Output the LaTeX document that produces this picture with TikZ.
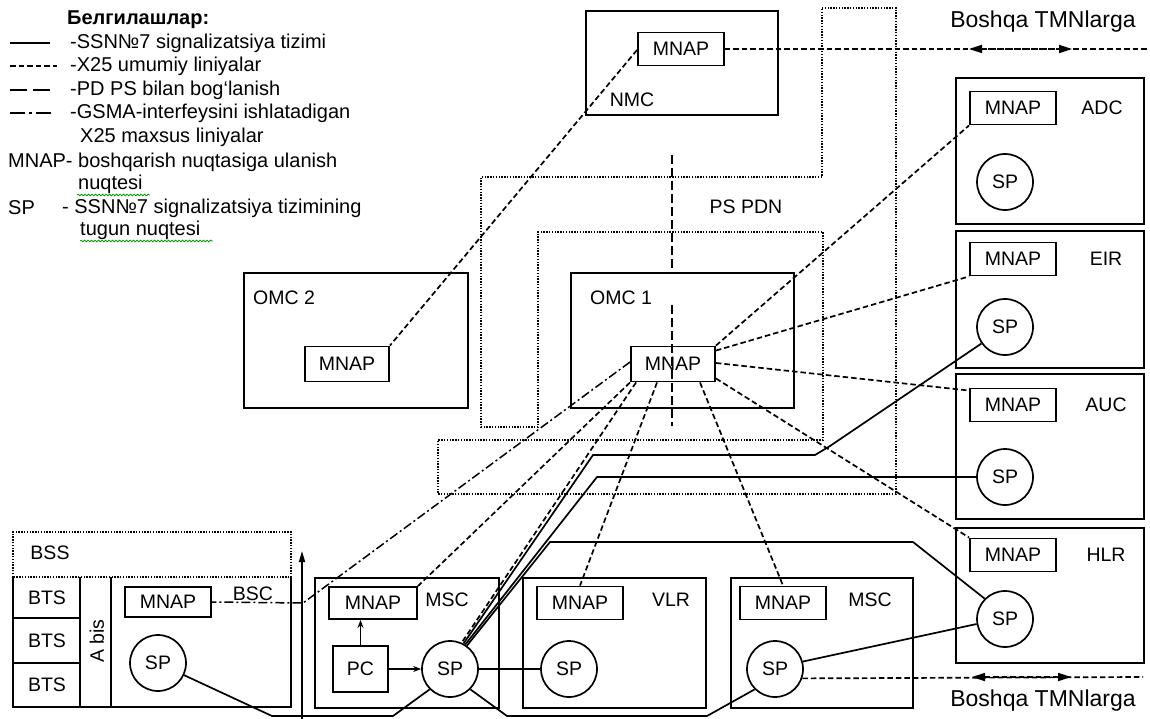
\documentclass[tikz,border=0pt]{standalone}
\usepackage{fontspec}
\setmainfont{Liberation Sans}
\usetikzlibrary{arrows.meta,decorations.pathmorphing,calc}
\newcommand\dlbl{\fontsize{19.5}{22}\selectfont}
\newcommand\dleg{\fontsize{20}{22}\selectfont}
\newcommand\dbig{\fontsize{23}{26}\selectfont}
\begin{document}
\begin{tikzpicture}[x=1pt,y=-1pt,
 box/.style={draw,line width=1.9pt,inner sep=0pt,anchor=north west},
 mnap/.style={draw,line width=1.9pt,minimum width=86pt,minimum height=33pt,inner sep=0pt,font=\dlbl},
 sp/.style={draw,circle,line width=1.7pt,minimum size=56pt,inner sep=0pt,font=\dlbl},
 lbl/.style={inner sep=0pt,font=\dlbl},
 leg/.style={inner sep=0pt,font=\dleg,anchor=west},
 ss7/.style={line width=1.7pt},
 x25/.style={line width=1.7pt,dash pattern=on 5.5pt off 3pt},
 pdps/.style={line width=1.7pt,dash pattern=on 9pt off 4pt},
 gsm/.style={line width=1.5pt,dash pattern=on 9pt off 3pt on 2pt off 3pt},
 dotb/.style={line width=1.9pt,dash pattern=on 1.4pt off 1.4pt},
 tips/.style={{Triangle[length=13pt,width=8pt]}-{Triangle[length=13pt,width=8pt]}},
 spell/.style={draw=green!60!black,line width=0.8pt,decorate,decoration={snake,amplitude=0.8pt,segment length=3.5pt}}
]
\fill[white] (0,0) rectangle (1150,719);
\useasboundingbox (0,0) rectangle (1150,719);

% ---------------- legend ----------------
\node[leg] (lt) at (67,20) {\bfseries Белгилашлар:};
\coordinate (a1) at (10,43); \coordinate (b1) at (50,43);
\draw[ss7] (a1) -- (b1);
\node[leg] (l1) at (70,43) {-SSN№7 signalizatsiya tizimi};
\coordinate (a2) at (10,66); \coordinate (b2) at (57,66);
\draw[x25] (a2) -- (b2);
\node[leg] (l2) at (70,66) {-X25 umumiy liniyalar};
\coordinate (a3) at (10,90); \coordinate (b3) at (52,90);
\draw[line width=1.7pt,dash pattern=on 17pt off 6pt] (a3) -- (b3);
\node[leg] (l3) at (70,90) {-PD PS bilan bog‘lanish};
\coordinate (a4) at (10,113); \coordinate (b4) at (54,113);
\draw[line width=1.6pt,dash pattern=on 15pt off 4pt on 3pt off 4pt] (a4) -- (b4);
\node[leg] (l4) at (70,113) {-GSMA-interfeysini ishlatadigan};
\node[leg] (l5) at (80,137) {X25 maxsus liniyalar};
\node[leg] (l6) at (8,162) {MNAP- boshqarish nuqtasiga ulanish};
\node[leg] (l7) at (78,184) {nuqtesi};
\coordinate (u1) at (77,195); \coordinate (u2) at (150,195);
\draw[spell] (u1) -- (u2);
\node[leg] (l8a) at (8,208) {SP};
\node[leg] (l8) at (62,208) {- SSN№7 signalizatsiya tizimining};
\node[leg] (l9) at (80,230) {tugun nuqtesi};
\coordinate (u3) at (80,241); \coordinate (u4) at (213,241);
\draw[spell] (u3) -- (u4);

% ---------------- PS PDN ----------------
\draw[dotb] (822,8) -- (896,8) -- (896,494) -- (438,494) -- (438,440) -- (823,440)
  -- (823,232) -- (538,232) -- (538,427) -- (481,427) -- (481,177) -- (822,177) -- cycle;
\node[lbl] (pspdn) at (746,207) {PS PDN};

% ---------------- NMC ----------------
\node[box,minimum width=192pt,minimum height=104pt] (nmc) at (585,10) {};
\node[lbl] (nmcl) at (632,100) {NMC};
\node[mnap] (mN) at (681,49) {MNAP};

% ---------------- OMC ----------------
\node[box,minimum width=224pt,minimum height=135pt] (omc2) at (243,272) {};
\node[lbl] (omc2l) at (284,298) {OMC 2};
\node[mnap,minimum width=84pt,minimum height=35pt] (mO2) at (347,364) {MNAP};
\node[box,minimum width=223pt,minimum height=135pt] (omc1) at (570,272) {};
\node[lbl] (omc1l) at (621,298) {OMC 1};
\node[mnap,minimum width=84pt,minimum height=35pt] (mO1) at (673,364) {MNAP};

% ---------------- right column ----------------
\node[box,minimum width=188pt,minimum height=146pt] (adc) at (955,77) {};
\node[mnap] (mA) at (1013,108) {MNAP};
\node[lbl] (adcl) at (1102,108) {ADC};
\node[sp] (spA) at (1005,182) {SP};
\node[box,minimum width=188pt,minimum height=137pt] (eir) at (955,230) {};
\node[mnap] (mE) at (1013,259) {MNAP};
\node[lbl] (eirl) at (1106,259) {EIR};
\node[sp] (spE) at (1005,327) {SP};
\node[box,minimum width=188pt,minimum height=145pt] (auc) at (955,373) {};
\node[mnap] (mU) at (1013,405) {MNAP};
\node[lbl] (aucl) at (1106,405) {AUC};
\node[sp] (spU) at (1005,477) {SP};
\node[box,minimum width=188pt,minimum height=135pt] (hlr) at (955,527) {};
\node[mnap] (mH) at (1013,555) {MNAP};
\node[lbl] (hlrl) at (1106,555) {HLR};
\node[sp] (spH) at (1005,619) {SP};

% ---------------- BSS ----------------
\draw[dotb] (13,577) -- (13,532) -- (291,532) -- (291,577) -- cycle;
\node[lbl] (bssl) at (50,553) {BSS};
\draw[line width=1.9pt] (13,577) -- (13,707) -- (291,707) -- (291,577);
\draw[line width=1.9pt] (80,577) -- (80,707) (111,577) -- (111,707)
  (13,618) -- (80,618) (13,663) -- (80,663);
\node[lbl] (bts1) at (47,598) {BTS};
\node[lbl] (bts2) at (47,641) {BTS};
\node[lbl] (bts3) at (47,685) {BTS};
\node[lbl,rotate=90] (abis) at (97,641) {A bis};
\node[mnap,minimum height=30pt] (mB) at (168,602) {MNAP};
\node[lbl] (bscl) at (253,594) {BSC};
\node[sp] (spB) at (158,663) {SP};
\coordinate (ar0) at (302,719); \coordinate (ar1) at (302,551);
\draw[ss7,-{Triangle[length=11pt,width=6pt]}] (ar0) -- (ar1);

% ---------------- MSC / VLR / MSC ----------------
\node[box,minimum width=184pt,minimum height=130pt] (msc1) at (314,577) {};
\node[mnap,minimum width=88pt,minimum height=32pt] (mM1) at (373,603) {MNAP};
\node[lbl] (msc1l) at (447,600) {MSC};
\node[draw,line width=1.9pt,minimum width=55pt,minimum height=46pt,inner sep=0pt,font=\dlbl] (pc) at (360.5,669) {PC};
\node[sp] (spM1) at (450,669) {SP};
\node[box,minimum width=183pt,minimum height=130pt] (vlr) at (522,577) {};
\node[mnap] (mV) at (580,603) {MNAP};
\node[lbl] (vlrl) at (671,600) {VLR};
\node[sp] (spV) at (569,669) {SP};
\node[box,minimum width=182pt,minimum height=130pt] (msc2) at (730,577) {};
\node[mnap] (mM2) at (783,603) {MNAP};
\node[lbl] (msc2l) at (870,600) {MSC};
\node[sp] (spM2) at (775,669) {SP};

% ---------------- connectors ----------------
% NMC
\coordinate (rt1) at (1150,49);
\draw[x25] (mN.east) -- (rt1);
\coordinate (ta1) at (969,49); \coordinate (ta2) at (1072,49);
\draw[x25,tips] (ta1) -- (ta2);
\node[lbl,font=\dbig] (bt1) at (1043,22) {Boshqa TMNlarga};
\draw[x25] ($(mN.west)+(0,1)$) -- (mO2.north east);
% PD PS vertical
\coordinate (ps1) at (672,155); \coordinate (ps2) at (672,305); \coordinate (ps3) at (672,426);
\draw[pdps] (ps1) -- (ps1 |- omc1.north);
\draw[pdps] (ps2) -- (ps3);
% OMC1 MNAP fan
\draw[x25] (mO1.north east) -- (mA.south west);
\draw[x25] ($(mO1.north east)+(0,5)$) -- (mE.south west);
\draw[x25] ($(mO1.east)+(0,-1)$) -- ($(mU.north west)+(0,3)$);
\draw[x25] ($(mO1.south east)+(0,-4)$) -- (mH.north west);
\draw[x25] (mO1.south west) -- (mM1.north east);
\draw[x25] ($(mO1.south west)+(6,0)$) -- (spM1.66);
\draw[x25] ($(mO1.south)+(-16,0)$) -- (mV.north);
\draw[x25] ($(mO1.south)+(27,0)$) -- (mM2.north);
\coordinate (gb) at (303,603);
\draw[gsm] ($(mO1.west)+(0,-2)$) -- (gb) -- (mB.east);
% SS7 lines
\coordinate (e1) at (830,446); \coordinate (e2) at (815,455); \coordinate (e3) at (593,455);
\draw[ss7] (spE.215) -- (e1) -- (e2) -- (e3) -- (spM1.62);
\coordinate (c1) at (597,477);
\draw[ss7] (spU.west) -- (c1) -- (spM1.58);
\coordinate (h1) at (913,542); \coordinate (h2) at (550,542);
\draw[ss7] (spH.135) -- (h1) -- (h2) -- (spM1.54);
\draw[ss7] (spM1.east) -- (spV.west);
\draw[ss7] (spM2.15) -- (spH.190);
\coordinate (b1a) at (272,716); \coordinate (b1b) at (393,716);
\draw[ss7] (spB.-25) -- (b1a) -- (b1b) -- (spM1.225);
\coordinate (b2a) at (507,716); \coordinate (b2b) at (707,716);
\draw[ss7] (spM1.-45) -- (b2a) -- (b2b) -- (spM2.-135);
\draw[ss7,-{Stealth[length=8pt,width=6pt]}] (pc.east) -- (spM1.west);
\draw[ss7,-{Stealth[length=8pt,width=6pt]}] (pc.north) -- (pc.north |- mM1.south);
% bottom right
\coordinate (rt2) at (1143,677);
\draw[x25] (spM2.-19) -- (rt2);
\coordinate (tb1) at (972,677); \coordinate (tb2) at (1071,677);
\draw[x25,tips] (tb1) -- (tb2);
\node[lbl,font=\dbig] (bt2) at (1043,701) {Boshqa TMNlarga};
\end{tikzpicture}
\end{document}
